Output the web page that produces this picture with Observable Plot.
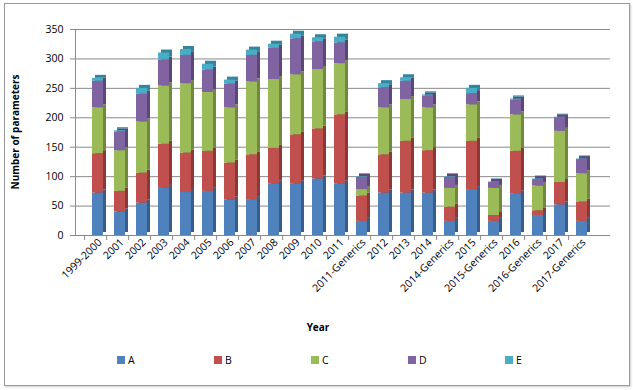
<!DOCTYPE html>
<html>
<head>
<meta charset="utf-8">
<script src="https://cdn.jsdelivr.net/npm/d3@7"></script>
<script src="https://cdn.jsdelivr.net/npm/@observablehq/plot@0.6"></script>
<style>
  body { margin:0; width:633px; height:390px; background:#fff; font-family:"Open Sans", sans-serif; position:relative; overflow:hidden; }
  #frame { position:absolute; left:4px; top:3px; width:624px; height:381px; border:1px solid #9a9a9a; box-shadow:1px 1px 2px #ccc; }
  #chart { position:absolute; left:0; top:0; }
  #ytitle { position:absolute; left:15px; top:132px; transform:translate(-50%,-50%) rotate(-90deg); font-size:10px; font-weight:bold; white-space:nowrap; color:#000; }
  #xtitle { position:absolute; left:318px; top:327px; transform:translate(-50%,-50%); font-size:10px; font-weight:bold; color:#000; }
  #legend { position:absolute; top:353px; left:0; width:633px; font-size:10.5px; color:#000; }
  .item { position:absolute; display:flex; align-items:center; }
  .sw { width:8px; height:8px; margin-right:3px; }
</style>
</head>
<body>
<div id="frame"></div>
<div id="chart"></div>
<div id="ytitle">Number of parameters</div>
<div id="xtitle">Year</div>
<div id="legend"></div>
<script>
const years = ["1999-2000","2001","2002","2003","2004","2005","2006","2007","2008","2009","2010","2011","2011-Generics","2012","2013","2014","2014-Generics","2015","2015-Generics","2016","2016-Generics","2017","2017-Generics"];
const seriesNames = ["A","B","C","D","E"];
const A = [72, 40, 55, 80, 73, 75, 60, 61, 88, 88, 96, 88, 24, 72, 72, 72, 24, 78, 24, 71, 34, 52, 24];
const B = [67, 35, 51, 75, 67, 68, 63, 76, 60, 83, 85, 117, 43, 65, 88, 72, 24, 82, 10, 72, 8, 38, 33];
const C = [78, 69, 87, 99, 118, 100, 94, 124, 117, 102, 101, 87, 11, 80, 71, 73, 32, 62, 46, 62, 42, 87, 48];
const D = [45, 32, 47, 44, 48, 38, 40, 45, 53, 61, 47, 35, 21, 34, 31, 20, 19, 19, 10, 25, 11, 23, 24];
const E = [5, 2, 10, 12, 10, 10, 7, 9, 7, 8, 7, 10, 1, 7, 6, 2, 1, 9, 1, 2, 1, 1, 1];
const yTicks = [0, 50, 100, 150, 200, 250, 300, 350];
const colors = ["#4F81BD", "#C0504D", "#9BBB59", "#8064A2", "#4BACC6"];
const sideColors = ["#385d8a", "#8c3836", "#71893f", "#5c4776", "#31859c"];

const cols = [A, B, C, D, E];
const data = years.flatMap((y, i) => seriesNames.map((s, j) => ({year: y, series: s, value: cols[j][i]})));
const sideColor = Object.fromEntries(seriesNames.map((s, j) => [s, sideColors[j]]));

const plot = Plot.plot({
  width: 633,
  height: 340,
  marginLeft: 75,
  marginRight: 23,
  marginTop: 29,
  marginBottom: 105,
  style: {fontFamily: "Open Sans, sans-serif", fontSize: "10.5px", color: "#000", background: "transparent"},
  x: {domain: years, range: [75, 600], paddingInner: 0.5, paddingOuter: 0.25, label: null},
  y: {domain: [0, 350], label: null},
  color: {domain: seriesNames, range: colors},
  marks: [
    Plot.ruleY(yTicks, {stroke: "#8a8a8a", strokeWidth: 1}),
    Plot.frame({anchor: "left", stroke: "#8a8a8a"}),
    Plot.axisY({ticks: yTicks, tickSize: 5, tickPadding: 7, stroke: "#8a8a8a", fill: "#000"}),
    Plot.axisX({tickSize: 5, text: null, dx: -11.4, stroke: "#8a8a8a"}),
    Plot.axisX({tickSize: 0, tickRotate: -45, tickPadding: 5, dx: 4, fill: "#000"}),
    Plot.barY(data, {x: "year", y: "value", fill: d => sideColor[d.series], dx: 5, dy: -3, order: seriesNames}),
    Plot.barY(data, {x: "year", y: "value", fill: "series", dx: 2, order: seriesNames})
  ]
});
document.getElementById("chart").appendChild(plot);

const legend = document.getElementById("legend");
seriesNames.forEach((s, j) => {
  const it = document.createElement("div");
  it.className = "item";
  it.style.left = (117 + j * 97) + "px";
  it.innerHTML = `<span class="sw" style="background:${colors[j]}"></span><span>${s}</span>`;
  legend.appendChild(it);
});
</script>
</body>
</html>
